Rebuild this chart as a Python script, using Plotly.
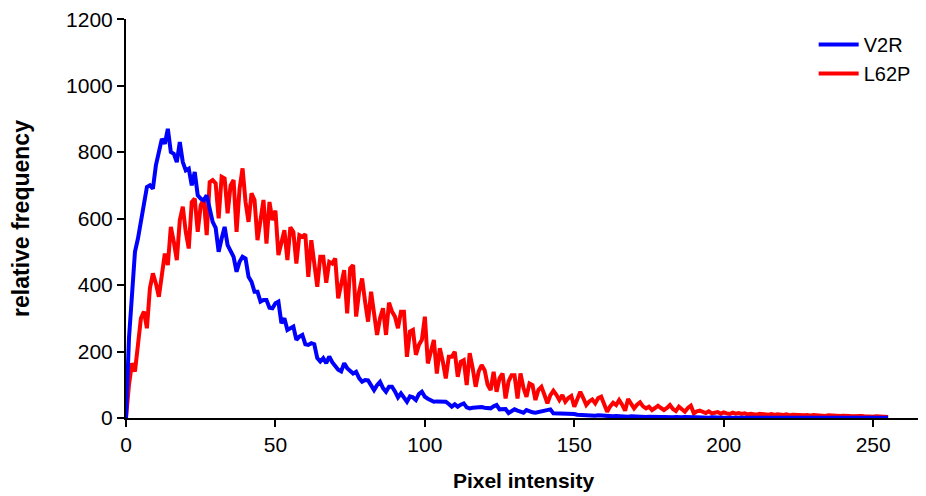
import plotly.graph_objects as go

# histogram values, one per pixel intensity 0..255 (rows of 10)
v2r = [
    0, 240, 370, 500, 540, 590, 640, 695, 700, 690,
    760, 800, 840, 825, 870, 800, 795, 770, 830, 770,
    745, 750, 700, 740, 670, 660, 655, 670, 630, 590,
    572, 500, 540, 575, 520, 500, 485, 440, 470, 485,
    480, 425, 410, 380, 380, 350, 355, 355, 332, 330,
    345, 350, 285, 300, 265, 270, 275, 235, 245, 250,
    222, 220, 225, 222, 180, 170, 180, 165, 185, 168,
    158, 145, 140, 165, 150, 142, 134, 139, 120, 109,
    114, 113, 100, 84, 99, 109, 90, 79, 94, 94,
    80, 62, 74, 60, 49, 65, 62, 54, 72, 79,
    64, 58, 55, 49, 50, 49, 48, 49, 42, 34,
    41, 34, 40, 44, 32, 29, 31, 32, 34, 33,
    31, 30, 29, 35, 39, 26, 28, 27, 15, 20,
    26, 22, 18, 16, 24, 20, 17, 16, 18, 19,
    22, 24, 26, 14, 14, 14, 13, 14, 12, 11,
    12, 10, 9, 10, 8, 9, 8, 7, 8, 7,
    6, 6, 7, 5, 6, 5, 5, 6, 4, 5,
    4, 4, 5, 4, 3, 4, 3, 4, 3, 3,
    3, 2, 3, 2, 3, 2, 2, 3, 2, 2,
    2, 2, 1, 2, 2, 1, 2, 1, 1, 2,
    1, 1, 2, 1, 1, 1, 1, 1, 2, 1,
    1, 1, 1, 1, 1, 1, 1, 1, 1, 1,
    1, 1, 1, 1, 1, 1, 1, 1, 1, 1,
    1, 1, 1, 1, 1, 1, 1, 1, 1, 1,
    1, 1, 1, 1, 1, 1, 1, 1, 1, 1,
    1, 1, 1, 1, 1, 1,
]

l62p = [
    0, 100, 165, 140, 220, 300, 320, 270, 390, 435,
    405, 365, 430, 495, 460, 575, 530, 475, 595, 636,
    560, 510, 650, 660, 560, 640, 660, 550, 710, 716,
    706, 601, 726, 721, 616, 700, 716, 560, 690, 751,
    650, 590, 676, 656, 535, 600, 656, 525, 650, 595,
    624, 490, 530, 565, 475, 574, 560, 465, 550, 545,
    553, 425, 535, 470, 395, 485, 485, 407, 470, 465,
    480, 360, 410, 445, 315, 450, 460, 305, 380, 420,
    350, 290, 380, 320, 250, 300, 330, 250, 347, 320,
    305, 270, 320, 320, 184, 260, 265, 190, 220, 235,
    305, 164, 200, 235, 134, 210, 170, 119, 184, 184,
    199, 124, 169, 174, 99, 195, 150, 94, 140, 159,
    144, 100, 84, 139, 79, 120, 134, 59, 110, 129,
    129, 59, 134, 90, 64, 104, 99, 54, 85, 94,
    70, 44, 69, 82, 70, 54, 69, 49, 60, 66,
    34, 55, 79, 60, 39, 50, 56, 44, 60, 64,
    44, 19, 35, 46, 39, 54, 40, 22, 57, 40,
    29, 40, 47, 35, 29, 34, 24, 30, 37, 30,
    24, 30, 39, 27, 21, 34, 25, 19, 30, 37,
    14, 20, 22, 18, 15, 20, 14, 16, 18, 13,
    17, 14, 12, 16, 13, 15, 12, 14, 11, 13,
    12, 10, 13, 11, 12, 10, 12, 9, 11, 10,
    9, 11, 8, 10, 9, 8, 10, 8, 9, 7,
    9, 8, 7, 8, 6, 8, 7, 6, 7, 6,
    7, 5, 6, 5, 6, 5, 6, 5, 4, 5,
    4, 5, 4, 4, 5, 3,
]

intensity_v2r = list(range(len(v2r)))
intensity_l62p = list(range(len(l62p)))

x_ticks = [0, 50, 100, 150, 200, 250]
y_ticks = [0, 200, 400, 600, 800, 1000, 1200]

font = "Liberation Sans, Arial, sans-serif"

fig = go.Figure()

fig.add_trace(go.Scatter(
    x=intensity_l62p, y=l62p, name="L62P", mode="lines",
    line=dict(color="#ff0000", width=4),
))
fig.add_trace(go.Scatter(
    x=intensity_v2r, y=v2r, name="V2R", mode="lines",
    line=dict(color="#0000ff", width=4),
))

fig.update_xaxes(
    range=[0, 266], tickvals=x_ticks, showgrid=False, zeroline=False,
    showline=True, linecolor="black", linewidth=2, automargin=False,
    ticks="outside", ticklen=7, tickwidth=2, tickcolor="black",
    ticklabeloverflow="allow",
    tickfont=dict(family=font, size=21, color="black"),
    title=dict(text="<b>Pixel intensity</b>", standoff=18,
               font=dict(family=font, size=21, color="black")),
)
fig.update_yaxes(
    range=[0, 1200.5], tickvals=y_ticks, showgrid=False, zeroline=False,
    showline=True, linecolor="black", linewidth=2, automargin=False,
    ticks="outside", ticklen=7, tickwidth=2, tickcolor="black",
    ticklabeloverflow="allow",
    tickfont=dict(family=font, size=21, color="black"),
    title=dict(text="<b>relative frequency</b>", standoff=38,
               font=dict(family=font, size=23, color="black")),
)

# the page body adds an 8px offset, so the figure is 8px smaller each way
fig.update_layout(
    width=918, height=488,
    margin=dict(l=118, r=5, t=11, b=78),
    plot_bgcolor="white", paper_bgcolor="white",
    legend=dict(
        x=0.865, y=0.985, xanchor="left", yanchor="top",
        traceorder="reversed",
        font=dict(family=font, size=20, color="black"),
        itemwidth=40, tracegroupgap=0,
        bgcolor="rgba(0,0,0,0)",
    ),
)

fig.write_html("out.html")
